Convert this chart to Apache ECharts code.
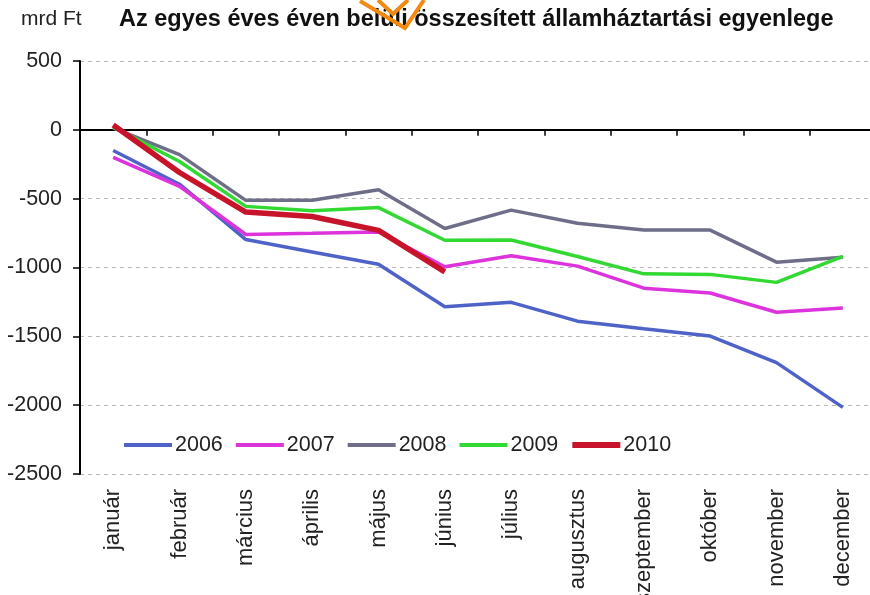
<!DOCTYPE html>
<html>
<head>
<meta charset="utf-8">
<script src="https://cdn.jsdelivr.net/npm/echarts@6/dist/echarts.min.js"></script>
<style>
html,body{margin:0;padding:0;background:#fff;}
#chart{width:870px;height:595px;}
</style>
</head>
<body>
<div id="chart"></div>
<script>
const months = ['január','február','március','április','május','június','július','augusztus','szeptember','október','november','december'];
const yTicks = [500, 0, -500, -1000, -1500, -2000, -2500];
const s2006 = [-150, -395, -797, -887, -976, -1285, -1253, -1390, -1445, -1498, -1691, -2016];
const s2007 = [-200, -410, -760, -752, -742, -995, -915, -990, -1150, -1185, -1325, -1295];
const s2008 = [15, -180, -512, -512, -435, -717, -583, -679, -728, -728, -961, -925];
const s2009 = [20, -230, -556, -588, -565, -802, -800, -920, -1046, -1050, -1108, -920];
const s2010 = [35, -310, -597, -630, -730, -1032];
const seriesNames = ['2006', '2007', '2008', '2009', '2010'];
const seriesData = [s2006, s2007, s2008, s2009, s2010];
const colors = ['#4f62c8', '#dd33dd', '#6e6e88', '#33d933', '#c8142a'];
const widths = [3.5, 3.5, 3.5, 3.5, 5.5];
const titleText = 'Az egyes éves éven belüli összesített államháztartási egyenlege';
const unitText = 'mrd Ft';

const FONT = 'Liberation Sans, Arial, sans-serif';
const chart = echarts.init(document.getElementById('chart'), null, {renderer: 'canvas'});

const option = {
  animation: false,
  backgroundColor: '#ffffff',
  title: [
    {text: unitText, left: 21, top: 9, padding: 0,
     textStyle: {fontFamily: FONT, fontSize: 21, fontWeight: 'normal', color: '#222'}},
    {text: titleText, left: 119, top: 8, padding: 0,
     textStyle: {fontFamily: FONT, fontSize: 23.5, fontWeight: 'bold', color: '#111'}}
  ],
  legend: {
    data: seriesNames.map(function (n, i) {
      return {name: n, lineStyle: {width: i === 4 ? 6 : 4, color: colors[i]}};
    }),
    left: 122, top: 434,
    itemWidth: 48, itemHeight: 14, itemGap: 11,
    padding: 0,
    itemStyle: {opacity: 0},
    lineStyle: {width: 4},
    textStyle: {fontFamily: FONT, fontSize: 21.5, color: '#222', padding: [0,0,0,-2]}
  },
  grid: {left: 80, right: -6, top: 61, bottom: 121, containLabel: false, outerBoundsMode: 'none'},
  xAxis: [
    {
      type: 'category', data: months, position: 'bottom',
      boundaryGap: true,
      axisLine: {show: false, onZero: false},
      axisTick: {show: false},
      splitLine: {show: false},
      axisLabel: {rotate: 90, margin: 15, interval: 0, fontFamily: FONT, fontSize: 22, color: '#222'}
    },
    {
      type: 'category', data: months, position: 'bottom',
      boundaryGap: true,
      axisLine: {show: true, onZero: true, lineStyle: {color: '#000', width: 2}},
      axisTick: {show: true, length: 6, interval: 0, lineStyle: {color: '#000', width: 1.5}},
      axisLabel: {show: false},
      splitLine: {show: false}
    }
  ],
  yAxis: {
    type: 'value', min: -2500, max: 500, interval: 500,
    axisLine: {show: true, lineStyle: {color: '#000', width: 2}},
    axisTick: {show: true, length: 7, lineStyle: {color: '#000', width: 1.5}},
    splitLine: {show: true, lineStyle: {color: '#b8b8b8', type: [4, 4], width: 1}},
    axisLabel: {margin: 18, fontFamily: FONT, fontSize: 21.5, color: '#222',
      formatter: function (v) { return yTicks.indexOf(v) >= 0 ? String(v) : ''; }}
  },
  series: seriesNames.map(function (name, i) {
    return {
      name: name, type: 'line', xAxisIndex: 0,
      data: seriesData[i],
      symbol: 'none', smooth: false,
      color: colors[i],
      lineStyle: {color: colors[i], width: widths[i]},
      z: 2 + i
    };
  }),
  graphic: [
    {type: 'polyline', silent: true, z: 100,
     shape: {points: [[360, 1], [405, 28], [424, 0]]},
     style: {stroke: '#f28a12', lineWidth: 4, fill: null}},
    {type: 'polyline', silent: true, z: 100,
     shape: {points: [[378, 0], [393, 14], [408, 0]]},
     style: {stroke: '#f28a12', lineWidth: 4, fill: null}}
  ]
};
chart.setOption(option);
</script>
</body>
</html>
